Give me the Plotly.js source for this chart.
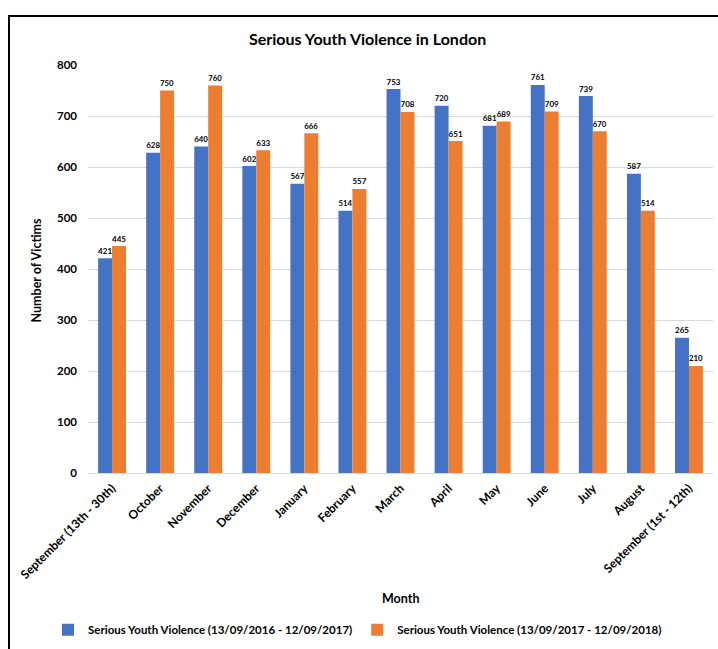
<!DOCTYPE html>
<html>
<head>
<meta charset="utf-8">
<script src="https://cdn.plot.ly/plotly-3.0.1.min.js"></script>
<style>
html,body{margin:0;padding:0;background:#fff;}
#wrap{position:relative;width:718px;height:649px;}
#chart{position:absolute;left:0;top:0;width:718px;height:649px;}
#frame{position:absolute;left:8px;top:15px;width:720px;height:650px;border-left:2.5px solid #000;border-top:2.5px solid #000;pointer-events:none;}
</style>
</head>
<body>
<div id="wrap"><div id="chart"></div><div id="frame"></div></div>
<script>
const months = ["September (13th - 30th)","October","November","December","January","February","March","April","May","June","July","August","September (1st - 12th)"];
const series1Name = "Serious Youth Violence (13/09/2016 - 12/09/2017)";
const series2Name = "Serious Youth Violence (13/09/2017 - 12/09/2018)";
const series1 = [421,628,640,602,567,514,753,720,681,761,739,587,265];
const series2 = [445,750,760,633,666,557,708,651,689,709,670,514,210];
const yTicks = [0,100,200,300,400,500,600,700,800];

const FONT = "Lato, 'Open Sans', sans-serif";
const lblFont = {family: FONT, size: 11, color: "#000", weight: "bold"};

const traces = [
  {type:"bar", name:series1Name, x:months, y:series1, marker:{color:"#4472C4"},
   text:series1.map(String), textposition:"outside", textfont:lblFont, cliponaxis:false, hoverinfo:"x+y"},
  {type:"bar", name:series2Name, x:months, y:series2, marker:{color:"#ED7D31"},
   text:series2.map(String), textposition:"outside", textfont:lblFont, cliponaxis:false, hoverinfo:"x+y"}
];

const layout = {
  width:718, height:649,
  margin:{l:88, r:5, t:65, b:173},
  paper_bgcolor:"#fff", plot_bgcolor:"#fff",
  font:{family:FONT, color:"#000"},
  title:{text:"Serious Youth Violence in London", font:{family:FONT, size:16, color:"#000", weight:"bold"}, x:0.512, xanchor:"center", y:0.939, yanchor:"middle"},
  barmode:"group", bargap:0.42, bargroupgap:0,
  xaxis:{type:"category", tickangle:-45, tickfont:{family:FONT, size:12, color:"#000", weight:"bold"},
         showgrid:false, showline:false, ticks:"", ticklabelstandoff:5, automargin:false},
  yaxis:{range:[0,800], tickvals:yTicks, ticktext:yTicks.map(String), showgrid:true, gridcolor:"#d9d9d9", gridwidth:1,
         zeroline:true, zerolinecolor:"#d9d9d9", zerolinewidth:1, showline:false, ticks:"", ticklabelstandoff:10,
         tickfont:{family:FONT, size:11.5, color:"#000", weight:"bold"}, automargin:false},
  showlegend:true,
  legend:{orientation:"h", x:(48-88)/625, xanchor:"left", y:-0.384, yanchor:"middle",
          font:{family:FONT, size:11.5, color:"#000", weight:"bold"}, itemwidth:20, traceorder:"normal"},
  annotations:[
    {text:"Month", xref:"paper", yref:"paper", x:0.5, y:(476-602)/411, xanchor:"center", yanchor:"middle", showarrow:false,
     font:{family:FONT, size:12.5, color:"#000", weight:"bold"}},
    {text:"Number of Victims", xref:"paper", yref:"paper", x:(36-88)/625, y:(476-272)/411, xanchor:"center", yanchor:"middle", textangle:-90, showarrow:false,
     font:{family:FONT, size:12.5, color:"#000", weight:"bold"}}
  ]
};

Plotly.newPlot("chart", traces, layout, {displayModeBar:false, responsive:false});
</script>
</body>
</html>
